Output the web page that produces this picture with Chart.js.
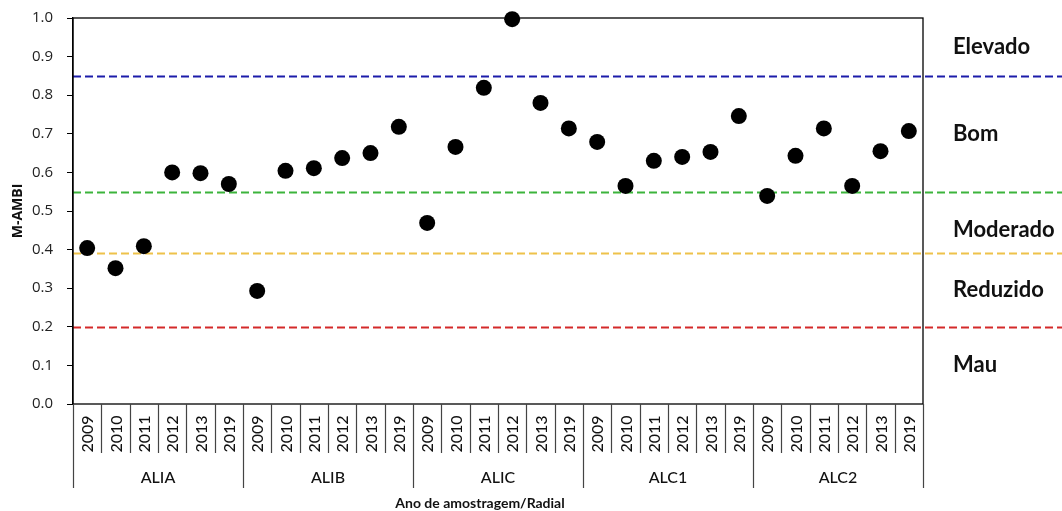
<!DOCTYPE html>
<html>
<head>
<meta charset="utf-8">
<script src="https://cdn.jsdelivr.net/npm/chart.js@4.4.1/dist/chart.umd.min.js"></script>
<style>
  body { margin: 0; background: #fff; }
</style>
</head>
<body>
<canvas id="mambiChart" width="1062" height="511"></canvas>
<script>
const groups = ["ALIA", "ALIB", "ALIC", "ALC1", "ALC2"];
const years = ["2009", "2010", "2011", "2012", "2013", "2019"];

const aliaValues = [0.404, 0.352, 0.409, 0.600, 0.598, 0.570];
const alibValues = [0.293, 0.604, 0.611, 0.637, 0.650, 0.718];
const alicValues = [0.469, 0.666, 0.819, 0.997, 0.780, 0.714];
const alc1Values = [0.679, 0.565, 0.630, 0.640, 0.653, 0.746];
const alc2Values = [0.539, 0.643, 0.714, 0.565, 0.655, 0.707];

const thresholds = [0.85, 0.55, 0.39, 0.20];
const thresholdColors = ["#1c1caa", "#3cb43c", "#eec24a", "#d42a2a"];
const classNames = ["Elevado", "Bom", "Moderado", "Reduzido", "Mau"];
const classLevels = [0.925, 0.70, 0.45, 0.295, 0.10];

const labels = groups.flatMap((g) => years.map((y) => g + " " + y));
const values = [...aliaValues, ...alibValues, ...alicValues, ...alc1Values, ...alc2Values];

// thresholds, frame and the two-level category axis
const frameAndLabels = {
  id: "frameAndLabels",
  beforeDatasetsDraw(chart) {
    const { ctx, chartArea: a, scales } = chart;
    const x = scales.x;
    const y = scales.y;
    ctx.save();

    thresholds.forEach((t, i) => {
      const py = Math.round(y.getPixelForValue(t)) + 0.5;
      ctx.strokeStyle = thresholdColors[i];
      ctx.lineWidth = 2;
      ctx.setLineDash([8, 4]);
      ctx.beginPath();
      ctx.moveTo(a.left, py);
      ctx.lineTo(chart.width, py);
      ctx.stroke();
    });
    ctx.setLineDash([]);

    ctx.strokeStyle = "#000";
    ctx.lineWidth = 1.3;
    ctx.strokeRect(a.left, a.top, a.right - a.left, a.bottom - a.top);

    const n = labels.length;
    const step = (a.right - a.left) / n;
    ctx.strokeStyle = "#444";
    ctx.lineWidth = 1.2;
    for (let i = 0; i <= n; i++) {
      const px = Math.round(a.left + i * step) + 0.5;
      const depth = i % years.length === 0 ? 84 : 49;
      ctx.beginPath();
      ctx.moveTo(px, a.bottom);
      ctx.lineTo(px, a.bottom + depth);
      ctx.stroke();
    }

    ctx.fillStyle = "#111";
    ctx.font = "500 16px Lato";
    ctx.textAlign = "center";
    ctx.textBaseline = "middle";
    labels.forEach((lab, i) => {
      const px = x.getPixelForValue(i);
      ctx.save();
      ctx.translate(px + 1, a.bottom + 30);
      ctx.rotate(-Math.PI / 2);
      ctx.fillText(years[i % years.length], 0, 0);
      ctx.restore();
    });

    groups.forEach((g, gi) => {
      const px = a.left + (gi * years.length + years.length / 2) * step;
      ctx.fillText(g, px, a.bottom + 74);
    });

    ctx.font = "bold 14px Lato";
    ctx.fillText("Ano de amostragem/Radial", (a.left + a.right) / 2 - 18, a.bottom + 99);

    ctx.font = "bold 22px Lato";
    ctx.textAlign = "left";
    classNames.forEach((name, i) => {
      ctx.fillText(name, a.right + 30, y.getPixelForValue(classLevels[i]));
    });

    ctx.restore();
  },
};

const ctx = document.getElementById("mambiChart").getContext("2d");
const chart = new Chart(ctx, {
  type: "line",
  data: {
    labels: labels,
    datasets: [
      {
        label: "M-AMBI",
        data: values,
        showLine: false,
        pointRadius: 8,
        pointHoverRadius: 8,
        pointBackgroundColor: "#000",
        pointBorderWidth: 0,
        clip: false,
      },
    ],
  },
  options: {
    responsive: false,
    animation: false,
    devicePixelRatio: 1,
    layout: {
      padding: { left: 0, right: 139, top: 18, bottom: 107 },
    },
    scales: {
      x: {
        display: false,
        offset: true,
      },
      y: {
        min: 0,
        max: 1,
        afterFit(scale) {
          scale.width = 73;
          scale.paddingTop = 0;
          scale.paddingBottom = 0;
        },
        ticks: {
          stepSize: 0.1,
          color: "#222",
          padding: 14,
          font: { family: "Open Sans", size: 15 },
          callback: (v) => Number(v).toFixed(1),
        },
        grid: {
          drawOnChartArea: false,
          tickLength: 6,
          color: "#000",
        },
        border: { display: true, color: "#000", width: 1.3 },
        title: {
          display: true,
          text: "M-AMBI",
          color: "#111",
          padding: { top: 10, bottom: 0 },
          font: { family: "Open Sans", size: 14, weight: "bold" },
        },
      },
    },
    plugins: {
      legend: { display: false },
      tooltip: { enabled: false },
    },
  },
  plugins: [frameAndLabels],
});
</script>
</body>
</html>
